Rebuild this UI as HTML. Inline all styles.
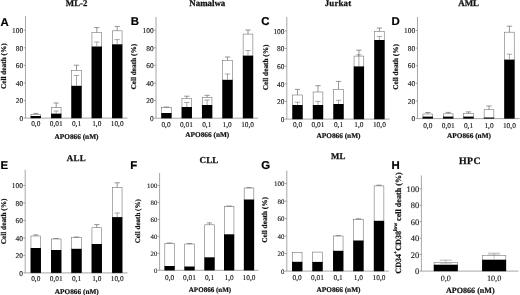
<!DOCTYPE html>
<html><head><meta charset="utf-8"><title>Figure</title>
<style>
html,body{margin:0;padding:0;background:#fff;}
body{width:520px;height:295px;overflow:hidden;}
svg{display:block;filter:blur(0.3px);}
text{text-rendering:geometricPrecision;font-family:"Liberation Serif","Times New Roman",serif;fill:#111;}
.t{stroke:#111;stroke-width:0.12px;}
.b{font-weight:bold;stroke:#111;stroke-width:0.2px;}
.ti{font-weight:bold;stroke:#111;stroke-width:0.25px;}
.L{font-family:"Liberation Sans",Arial,sans-serif;font-weight:bold;font-size:11.4px;fill:#000;stroke:#000;stroke-width:0.2px;}
</style></head><body>
<svg width="520" height="295" viewBox="0 0 520 295">
<rect width="520" height="295" fill="#fff"/>
<path d="M25.5 16V118.1H127.5" fill="none" stroke="#8a8a8a" stroke-width="0.75"/>
<path d="M23.70 118.10H25.5" stroke="#8a8a8a" stroke-width="0.8"/>
<text x="23.20" y="120.84" text-anchor="end" class="t" font-size="7.40">0</text>
<path d="M23.70 100.52H25.5" stroke="#8a8a8a" stroke-width="0.8"/>
<text x="23.20" y="103.26" text-anchor="end" class="t" font-size="7.40">20</text>
<path d="M23.70 82.94H25.5" stroke="#8a8a8a" stroke-width="0.8"/>
<text x="23.20" y="85.68" text-anchor="end" class="t" font-size="7.40">40</text>
<path d="M23.70 65.36H25.5" stroke="#8a8a8a" stroke-width="0.8"/>
<text x="23.20" y="68.10" text-anchor="end" class="t" font-size="7.40">60</text>
<path d="M23.70 47.78H25.5" stroke="#8a8a8a" stroke-width="0.8"/>
<text x="23.20" y="50.52" text-anchor="end" class="t" font-size="7.40">80</text>
<path d="M23.70 30.20H25.5" stroke="#8a8a8a" stroke-width="0.8"/>
<text x="23.20" y="32.94" text-anchor="end" class="t" font-size="7.40">100</text>
<rect x="30.95" y="114.40" width="9.70" height="3.70" fill="#fff" stroke="#767676" stroke-width="0.6"/>
<rect x="30.65" y="116.00" width="10.30" height="2.10" fill="#000"/>
<path d="M35.80 114.40V113.40M33.15 113.40H38.45" stroke="#6c6c6c" stroke-width="0.7" fill="none"/>
<rect x="51.35" y="107.60" width="9.70" height="10.50" fill="#fff" stroke="#767676" stroke-width="0.6"/>
<rect x="51.05" y="113.60" width="10.30" height="4.50" fill="#000"/>
<path d="M56.20 107.60V103.00M53.55 103.00H58.85" stroke="#6c6c6c" stroke-width="0.7" fill="none"/>
<path d="M56.20 113.60V111.00M53.55 111.00H58.85" stroke="#707070" stroke-width="0.6" fill="none"/>
<rect x="71.65" y="70.40" width="9.70" height="47.70" fill="#fff" stroke="#767676" stroke-width="0.6"/>
<rect x="71.35" y="85.80" width="10.30" height="32.30" fill="#000"/>
<path d="M76.50 70.40V65.20M73.85 65.20H79.15" stroke="#6c6c6c" stroke-width="0.7" fill="none"/>
<path d="M76.50 85.80V75.50M73.85 75.50H79.15" stroke="#707070" stroke-width="0.6" fill="none"/>
<rect x="91.95" y="32.40" width="9.70" height="85.70" fill="#fff" stroke="#767676" stroke-width="0.6"/>
<rect x="91.65" y="46.50" width="10.30" height="71.60" fill="#000"/>
<path d="M96.80 32.40V27.60M94.15 27.60H99.45" stroke="#6c6c6c" stroke-width="0.7" fill="none"/>
<path d="M96.80 46.50V42.00M94.15 42.00H99.45" stroke="#707070" stroke-width="0.6" fill="none"/>
<rect x="112.35" y="30.80" width="9.70" height="87.30" fill="#fff" stroke="#767676" stroke-width="0.6"/>
<rect x="112.05" y="44.30" width="10.30" height="73.80" fill="#000"/>
<path d="M117.20 30.80V26.40M114.55 26.40H119.85" stroke="#6c6c6c" stroke-width="0.7" fill="none"/>
<path d="M117.20 44.30V39.60M114.55 39.60H119.85" stroke="#707070" stroke-width="0.6" fill="none"/>
<text x="35.80" y="126.40" text-anchor="middle" class="t" font-size="7.40">0,0</text>
<text x="56.20" y="126.40" text-anchor="middle" class="t" font-size="7.40">0,01</text>
<text x="76.50" y="126.40" text-anchor="middle" class="t" font-size="7.40">0,1</text>
<text x="96.80" y="126.40" text-anchor="middle" class="t" font-size="7.40">1,0</text>
<text x="117.20" y="126.40" text-anchor="middle" class="t" font-size="7.40">10,0</text>
<text x="76.50" y="138.70" text-anchor="middle" class="b" font-size="7.30">APO866 (nM)</text>
<text x="76.60" y="6.20" text-anchor="middle" class="ti" font-size="8.8" letter-spacing="0">ML-2</text>
<text x="0.40" y="26.00" class="L">A</text>
<text transform="translate(5.50 66.20) rotate(-90)" text-anchor="middle" class="b" font-size="7.30">Cell death (%)</text>
<path d="M156.0 17V118.2H258" fill="none" stroke="#8a8a8a" stroke-width="0.75"/>
<path d="M154.20 118.20H156.0" stroke="#8a8a8a" stroke-width="0.8"/>
<text x="153.70" y="120.94" text-anchor="end" class="t" font-size="7.40">0</text>
<path d="M154.20 100.60H156.0" stroke="#8a8a8a" stroke-width="0.8"/>
<text x="153.70" y="103.34" text-anchor="end" class="t" font-size="7.40">20</text>
<path d="M154.20 83.00H156.0" stroke="#8a8a8a" stroke-width="0.8"/>
<text x="153.70" y="85.74" text-anchor="end" class="t" font-size="7.40">40</text>
<path d="M154.20 65.40H156.0" stroke="#8a8a8a" stroke-width="0.8"/>
<text x="153.70" y="68.14" text-anchor="end" class="t" font-size="7.40">60</text>
<path d="M154.20 47.80H156.0" stroke="#8a8a8a" stroke-width="0.8"/>
<text x="153.70" y="50.54" text-anchor="end" class="t" font-size="7.40">80</text>
<path d="M154.20 30.20H156.0" stroke="#8a8a8a" stroke-width="0.8"/>
<text x="153.70" y="32.94" text-anchor="end" class="t" font-size="7.40">100</text>
<rect x="161.55" y="107.60" width="9.70" height="10.60" fill="#fff" stroke="#767676" stroke-width="0.6"/>
<rect x="161.25" y="113.00" width="10.30" height="5.20" fill="#000"/>
<path d="M166.40 107.60V107.00M163.75 107.00H169.05" stroke="#6c6c6c" stroke-width="0.7" fill="none"/>
<rect x="181.95" y="98.40" width="9.70" height="19.80" fill="#fff" stroke="#767676" stroke-width="0.6"/>
<rect x="181.65" y="107.00" width="10.30" height="11.20" fill="#000"/>
<path d="M186.80 98.40V96.20M184.15 96.20H189.45" stroke="#6c6c6c" stroke-width="0.7" fill="none"/>
<path d="M186.80 107.00V102.50M184.15 102.50H189.45" stroke="#707070" stroke-width="0.6" fill="none"/>
<rect x="202.25" y="97.50" width="9.70" height="20.70" fill="#fff" stroke="#767676" stroke-width="0.6"/>
<rect x="201.95" y="105.00" width="10.30" height="13.20" fill="#000"/>
<path d="M207.10 97.50V95.30M204.45 95.30H209.75" stroke="#6c6c6c" stroke-width="0.7" fill="none"/>
<path d="M207.10 105.00V100.00M204.45 100.00H209.75" stroke="#707070" stroke-width="0.6" fill="none"/>
<rect x="222.65" y="60.30" width="9.70" height="57.90" fill="#fff" stroke="#767676" stroke-width="0.6"/>
<rect x="222.35" y="79.80" width="10.30" height="38.40" fill="#000"/>
<path d="M227.50 60.30V57.00M224.85 57.00H230.15" stroke="#6c6c6c" stroke-width="0.7" fill="none"/>
<path d="M227.50 79.80V74.00M224.85 74.00H230.15" stroke="#707070" stroke-width="0.6" fill="none"/>
<rect x="243.15" y="34.10" width="9.70" height="84.10" fill="#fff" stroke="#767676" stroke-width="0.6"/>
<rect x="242.85" y="55.60" width="10.30" height="62.60" fill="#000"/>
<path d="M248.00 34.10V30.00M245.35 30.00H250.65" stroke="#6c6c6c" stroke-width="0.7" fill="none"/>
<path d="M248.00 55.60V50.50M245.35 50.50H250.65" stroke="#707070" stroke-width="0.6" fill="none"/>
<text x="166.00" y="126.60" text-anchor="middle" class="t" font-size="7.40">0,0</text>
<text x="186.40" y="126.60" text-anchor="middle" class="t" font-size="7.40">0,01</text>
<text x="206.80" y="126.60" text-anchor="middle" class="t" font-size="7.40">0,1</text>
<text x="227.20" y="126.60" text-anchor="middle" class="t" font-size="7.40">1,0</text>
<text x="247.60" y="126.60" text-anchor="middle" class="t" font-size="7.40">10,0</text>
<text x="207.30" y="137.00" text-anchor="middle" class="b" font-size="7.30">APO866 (nM)</text>
<text x="207.30" y="6.20" text-anchor="middle" class="ti" font-size="8.9" letter-spacing="0">Namalwa</text>
<text x="130.80" y="24.90" class="L">B</text>
<text transform="translate(136.40 66.70) rotate(-90)" text-anchor="middle" class="b" font-size="7.30">Cell death (%)</text>
<path d="M286.8 17V119.1H389.5" fill="none" stroke="#8a8a8a" stroke-width="0.75"/>
<path d="M285.00 119.10H286.8" stroke="#8a8a8a" stroke-width="0.8"/>
<text x="284.50" y="121.84" text-anchor="end" class="t" font-size="7.40">0</text>
<path d="M285.00 101.44H286.8" stroke="#8a8a8a" stroke-width="0.8"/>
<text x="284.50" y="104.18" text-anchor="end" class="t" font-size="7.40">20</text>
<path d="M285.00 83.78H286.8" stroke="#8a8a8a" stroke-width="0.8"/>
<text x="284.50" y="86.52" text-anchor="end" class="t" font-size="7.40">40</text>
<path d="M285.00 66.12H286.8" stroke="#8a8a8a" stroke-width="0.8"/>
<text x="284.50" y="68.86" text-anchor="end" class="t" font-size="7.40">60</text>
<path d="M285.00 48.46H286.8" stroke="#8a8a8a" stroke-width="0.8"/>
<text x="284.50" y="51.20" text-anchor="end" class="t" font-size="7.40">80</text>
<path d="M285.00 30.80H286.8" stroke="#8a8a8a" stroke-width="0.8"/>
<text x="284.50" y="33.54" text-anchor="end" class="t" font-size="7.40">100</text>
<rect x="292.65" y="95.00" width="9.70" height="24.10" fill="#fff" stroke="#767676" stroke-width="0.6"/>
<rect x="292.35" y="105.00" width="10.30" height="14.10" fill="#000"/>
<path d="M297.50 95.00V89.40M294.85 89.40H300.15" stroke="#6c6c6c" stroke-width="0.7" fill="none"/>
<path d="M297.50 105.00V102.20M294.85 102.20H300.15" stroke="#707070" stroke-width="0.6" fill="none"/>
<rect x="313.15" y="92.00" width="9.70" height="27.10" fill="#fff" stroke="#767676" stroke-width="0.6"/>
<rect x="312.85" y="105.00" width="10.30" height="14.10" fill="#000"/>
<path d="M318.00 92.00V85.70M315.35 85.70H320.65" stroke="#6c6c6c" stroke-width="0.7" fill="none"/>
<path d="M318.00 105.00V101.40M315.35 101.40H320.65" stroke="#707070" stroke-width="0.6" fill="none"/>
<rect x="333.65" y="89.40" width="9.70" height="29.70" fill="#fff" stroke="#767676" stroke-width="0.6"/>
<rect x="333.35" y="104.00" width="10.30" height="15.10" fill="#000"/>
<path d="M338.50 89.40V81.40M335.85 81.40H341.15" stroke="#6c6c6c" stroke-width="0.7" fill="none"/>
<path d="M338.50 104.00V100.30M335.85 100.30H341.15" stroke="#707070" stroke-width="0.6" fill="none"/>
<rect x="354.05" y="56.10" width="9.70" height="63.00" fill="#fff" stroke="#767676" stroke-width="0.6"/>
<rect x="353.75" y="66.40" width="10.30" height="52.70" fill="#000"/>
<path d="M358.90 56.10V50.20M356.25 50.20H361.55" stroke="#6c6c6c" stroke-width="0.7" fill="none"/>
<path d="M358.90 66.40V54.80M356.25 54.80H361.55" stroke="#707070" stroke-width="0.6" fill="none"/>
<rect x="374.55" y="31.30" width="9.70" height="87.80" fill="#fff" stroke="#767676" stroke-width="0.6"/>
<rect x="374.25" y="40.00" width="10.30" height="79.10" fill="#000"/>
<path d="M379.40 31.30V28.00M376.75 28.00H382.05" stroke="#6c6c6c" stroke-width="0.7" fill="none"/>
<path d="M379.40 40.00V36.40M376.75 36.40H382.05" stroke="#707070" stroke-width="0.6" fill="none"/>
<text x="297.50" y="127.20" text-anchor="middle" class="t" font-size="7.40">0,0</text>
<text x="318.00" y="127.20" text-anchor="middle" class="t" font-size="7.40">0,01</text>
<text x="338.50" y="127.20" text-anchor="middle" class="t" font-size="7.40">0,1</text>
<text x="358.90" y="127.20" text-anchor="middle" class="t" font-size="7.40">1,0</text>
<text x="379.40" y="127.20" text-anchor="middle" class="t" font-size="7.40">10,0</text>
<text x="338.50" y="138.20" text-anchor="middle" class="b" font-size="7.30">APO866 (nM)</text>
<text x="338.00" y="6.40" text-anchor="middle" class="ti" font-size="8.9" letter-spacing="0.15">Jurkat</text>
<text x="261.30" y="24.90" class="L">C</text>
<text transform="translate(267.60 67.40) rotate(-90)" text-anchor="middle" class="b" font-size="7.30">Cell death (%)</text>
<path d="M417.5 17V118.6H519.5" fill="none" stroke="#8a8a8a" stroke-width="0.75"/>
<path d="M415.70 118.60H417.5" stroke="#8a8a8a" stroke-width="0.8"/>
<text x="415.20" y="121.34" text-anchor="end" class="t" font-size="7.40">0</text>
<path d="M415.70 100.98H417.5" stroke="#8a8a8a" stroke-width="0.8"/>
<text x="415.20" y="103.72" text-anchor="end" class="t" font-size="7.40">20</text>
<path d="M415.70 83.36H417.5" stroke="#8a8a8a" stroke-width="0.8"/>
<text x="415.20" y="86.10" text-anchor="end" class="t" font-size="7.40">40</text>
<path d="M415.70 65.74H417.5" stroke="#8a8a8a" stroke-width="0.8"/>
<text x="415.20" y="68.48" text-anchor="end" class="t" font-size="7.40">60</text>
<path d="M415.70 48.12H417.5" stroke="#8a8a8a" stroke-width="0.8"/>
<text x="415.20" y="50.86" text-anchor="end" class="t" font-size="7.40">80</text>
<path d="M415.70 30.50H417.5" stroke="#8a8a8a" stroke-width="0.8"/>
<text x="415.20" y="33.24" text-anchor="end" class="t" font-size="7.40">100</text>
<rect x="422.95" y="114.00" width="9.70" height="4.60" fill="#fff" stroke="#767676" stroke-width="0.6"/>
<rect x="422.65" y="116.60" width="10.30" height="2.00" fill="#000"/>
<path d="M427.80 114.00V112.50M425.15 112.50H430.45" stroke="#6c6c6c" stroke-width="0.7" fill="none"/>
<rect x="443.35" y="113.80" width="9.70" height="4.80" fill="#fff" stroke="#767676" stroke-width="0.6"/>
<rect x="443.05" y="116.60" width="10.30" height="2.00" fill="#000"/>
<path d="M448.20 113.80V112.40M445.55 112.40H450.85" stroke="#6c6c6c" stroke-width="0.7" fill="none"/>
<rect x="463.65" y="113.40" width="9.70" height="5.20" fill="#fff" stroke="#767676" stroke-width="0.6"/>
<rect x="463.35" y="116.60" width="10.30" height="2.00" fill="#000"/>
<path d="M468.50 113.40V111.90M465.85 111.90H471.15" stroke="#6c6c6c" stroke-width="0.7" fill="none"/>
<rect x="484.15" y="109.70" width="9.70" height="8.90" fill="#fff" stroke="#767676" stroke-width="0.6"/>
<rect x="483.85" y="117.50" width="10.30" height="1.10" fill="#000"/>
<path d="M489.00 109.70V106.00M486.35 106.00H491.65" stroke="#6c6c6c" stroke-width="0.7" fill="none"/>
<rect x="504.55" y="32.20" width="9.70" height="86.40" fill="#fff" stroke="#767676" stroke-width="0.6"/>
<rect x="504.25" y="59.60" width="10.30" height="59.00" fill="#000"/>
<path d="M509.40 32.20V26.20M506.75 26.20H512.05" stroke="#6c6c6c" stroke-width="0.7" fill="none"/>
<path d="M509.40 59.60V54.20M506.75 54.20H512.05" stroke="#707070" stroke-width="0.6" fill="none"/>
<text x="427.80" y="127.50" text-anchor="middle" class="t" font-size="7.40">0,0</text>
<text x="448.20" y="127.50" text-anchor="middle" class="t" font-size="7.40">0,01</text>
<text x="468.50" y="127.50" text-anchor="middle" class="t" font-size="7.40">0,1</text>
<text x="489.00" y="127.50" text-anchor="middle" class="t" font-size="7.40">1,0</text>
<text x="509.40" y="127.50" text-anchor="middle" class="t" font-size="7.40">10,0</text>
<text x="469.00" y="137.90" text-anchor="middle" class="b" font-size="7.30">APO866 (nM)</text>
<text x="468.60" y="6.20" text-anchor="middle" class="ti" font-size="8.9" letter-spacing="0">AML</text>
<text x="391.60" y="25.30" class="L">D</text>
<text transform="translate(397.70 66.90) rotate(-90)" text-anchor="middle" class="b" font-size="7.30">Cell death (%)</text>
<path d="M25.2 169.8V272.9H127.5" fill="none" stroke="#8a8a8a" stroke-width="0.75"/>
<path d="M23.40 272.90H25.2" stroke="#8a8a8a" stroke-width="0.8"/>
<text x="22.90" y="275.64" text-anchor="end" class="t" font-size="7.40">0</text>
<path d="M23.40 255.42H25.2" stroke="#8a8a8a" stroke-width="0.8"/>
<text x="22.90" y="258.16" text-anchor="end" class="t" font-size="7.40">20</text>
<path d="M23.40 237.94H25.2" stroke="#8a8a8a" stroke-width="0.8"/>
<text x="22.90" y="240.68" text-anchor="end" class="t" font-size="7.40">40</text>
<path d="M23.40 220.46H25.2" stroke="#8a8a8a" stroke-width="0.8"/>
<text x="22.90" y="223.20" text-anchor="end" class="t" font-size="7.40">60</text>
<path d="M23.40 202.98H25.2" stroke="#8a8a8a" stroke-width="0.8"/>
<text x="22.90" y="205.72" text-anchor="end" class="t" font-size="7.40">80</text>
<path d="M23.40 185.50H25.2" stroke="#8a8a8a" stroke-width="0.8"/>
<text x="22.90" y="188.24" text-anchor="end" class="t" font-size="7.40">100</text>
<rect x="30.95" y="236.00" width="9.70" height="36.90" fill="#fff" stroke="#767676" stroke-width="0.6"/>
<rect x="30.65" y="248.00" width="10.30" height="24.90" fill="#000"/>
<path d="M35.80 236.00V234.90M33.15 234.90H38.45" stroke="#6c6c6c" stroke-width="0.7" fill="none"/>
<rect x="51.35" y="239.00" width="9.70" height="33.90" fill="#fff" stroke="#767676" stroke-width="0.6"/>
<rect x="51.05" y="250.00" width="10.30" height="22.90" fill="#000"/>
<path d="M56.20 239.00V238.50M53.55 238.50H58.85" stroke="#6c6c6c" stroke-width="0.7" fill="none"/>
<rect x="71.65" y="237.30" width="9.70" height="35.60" fill="#fff" stroke="#767676" stroke-width="0.6"/>
<rect x="71.35" y="248.80" width="10.30" height="24.10" fill="#000"/>
<path d="M76.50 237.30V237.00M73.85 237.00H79.15" stroke="#6c6c6c" stroke-width="0.7" fill="none"/>
<rect x="91.95" y="227.70" width="9.70" height="45.20" fill="#fff" stroke="#767676" stroke-width="0.6"/>
<rect x="91.65" y="244.00" width="10.30" height="28.90" fill="#000"/>
<path d="M96.80 227.70V224.60M94.15 224.60H99.45" stroke="#6c6c6c" stroke-width="0.7" fill="none"/>
<rect x="112.35" y="187.50" width="9.70" height="85.40" fill="#fff" stroke="#767676" stroke-width="0.6"/>
<rect x="112.05" y="217.10" width="10.30" height="55.80" fill="#000"/>
<path d="M117.20 187.50V182.80M114.55 182.80H119.85" stroke="#6c6c6c" stroke-width="0.7" fill="none"/>
<path d="M117.20 217.10V213.00M114.55 213.00H119.85" stroke="#707070" stroke-width="0.6" fill="none"/>
<text x="35.80" y="281.20" text-anchor="middle" class="t" font-size="7.40">0,0</text>
<text x="56.20" y="281.20" text-anchor="middle" class="t" font-size="7.40">0,01</text>
<text x="76.50" y="281.20" text-anchor="middle" class="t" font-size="7.40">0,1</text>
<text x="96.80" y="281.20" text-anchor="middle" class="t" font-size="7.40">1,0</text>
<text x="117.20" y="281.20" text-anchor="middle" class="t" font-size="7.40">10,0</text>
<text x="76.80" y="293.90" text-anchor="middle" class="b" font-size="7.30">APO866 (nM)</text>
<text x="76.40" y="160.60" text-anchor="middle" class="ti" font-size="8.9" letter-spacing="0.3">ALL</text>
<text x="0.60" y="169.40" class="L">E</text>
<text transform="translate(6.00 221.40) rotate(-90)" text-anchor="middle" class="b" font-size="7.30">Cell death (%)</text>
<path d="M159.6 173V270.3H258.5" fill="none" stroke="#8a8a8a" stroke-width="0.75"/>
<path d="M157.80 270.30H159.6" stroke="#8a8a8a" stroke-width="0.8"/>
<text x="157.30" y="272.85" text-anchor="end" class="t" font-size="6.81">0</text>
<path d="M157.80 253.36H159.6" stroke="#8a8a8a" stroke-width="0.8"/>
<text x="157.30" y="255.91" text-anchor="end" class="t" font-size="6.81">20</text>
<path d="M157.80 236.42H159.6" stroke="#8a8a8a" stroke-width="0.8"/>
<text x="157.30" y="238.97" text-anchor="end" class="t" font-size="6.81">40</text>
<path d="M157.80 219.48H159.6" stroke="#8a8a8a" stroke-width="0.8"/>
<text x="157.30" y="222.03" text-anchor="end" class="t" font-size="6.81">60</text>
<path d="M157.80 202.54H159.6" stroke="#8a8a8a" stroke-width="0.8"/>
<text x="157.30" y="205.09" text-anchor="end" class="t" font-size="6.81">80</text>
<path d="M157.80 185.60H159.6" stroke="#8a8a8a" stroke-width="0.8"/>
<text x="157.30" y="188.15" text-anchor="end" class="t" font-size="6.81">100</text>
<rect x="164.80" y="243.40" width="9.60" height="26.90" fill="#fff" stroke="#767676" stroke-width="0.6"/>
<rect x="164.50" y="266.00" width="10.20" height="4.30" fill="#000"/>
<path d="M169.60 243.40V243.00M166.95 243.00H172.25" stroke="#6c6c6c" stroke-width="0.7" fill="none"/>
<rect x="184.70" y="244.00" width="9.60" height="26.30" fill="#fff" stroke="#767676" stroke-width="0.6"/>
<rect x="184.40" y="266.50" width="10.20" height="3.80" fill="#000"/>
<path d="M189.50 244.00V243.60M186.85 243.60H192.15" stroke="#6c6c6c" stroke-width="0.7" fill="none"/>
<rect x="204.70" y="224.80" width="9.60" height="45.50" fill="#fff" stroke="#767676" stroke-width="0.6"/>
<rect x="204.40" y="257.30" width="10.20" height="13.00" fill="#000"/>
<path d="M209.50 224.80V222.90M206.85 222.90H212.15" stroke="#6c6c6c" stroke-width="0.7" fill="none"/>
<rect x="224.30" y="206.40" width="9.60" height="63.90" fill="#fff" stroke="#767676" stroke-width="0.6"/>
<rect x="224.00" y="234.30" width="10.20" height="36.00" fill="#000"/>
<path d="M229.10 206.40V206.00M226.45 206.00H231.75" stroke="#6c6c6c" stroke-width="0.7" fill="none"/>
<rect x="244.20" y="188.00" width="9.60" height="82.30" fill="#fff" stroke="#767676" stroke-width="0.6"/>
<rect x="243.90" y="199.50" width="10.20" height="70.80" fill="#000"/>
<path d="M249.00 188.00V187.60M246.35 187.60H251.65" stroke="#6c6c6c" stroke-width="0.7" fill="none"/>
<text x="169.60" y="279.60" text-anchor="middle" class="t" font-size="7.40">0,0</text>
<text x="189.50" y="279.60" text-anchor="middle" class="t" font-size="7.40">0,01</text>
<text x="209.50" y="279.60" text-anchor="middle" class="t" font-size="7.40">0,1</text>
<text x="229.10" y="279.60" text-anchor="middle" class="t" font-size="7.40">1,0</text>
<text x="249.00" y="279.60" text-anchor="middle" class="t" font-size="7.40">10,0</text>
<text x="210.00" y="291.50" text-anchor="middle" class="b" font-size="7.04">APO866 (nM)</text>
<text x="209.00" y="162.50" text-anchor="middle" class="ti" font-size="9.1" letter-spacing="0.15">CLL</text>
<text x="130.20" y="168.90" class="L">F</text>
<text transform="translate(139.90 221.30) rotate(-90)" text-anchor="middle" class="b" font-size="7.04">Cell death (%)</text>
<path d="M286.8 170.5V271.1H389" fill="none" stroke="#8a8a8a" stroke-width="0.75"/>
<path d="M285.00 271.10H286.8" stroke="#8a8a8a" stroke-width="0.8"/>
<text x="284.50" y="273.70" text-anchor="end" class="t" font-size="6.96">0</text>
<path d="M285.00 253.60H286.8" stroke="#8a8a8a" stroke-width="0.8"/>
<text x="284.50" y="256.20" text-anchor="end" class="t" font-size="6.96">20</text>
<path d="M285.00 236.10H286.8" stroke="#8a8a8a" stroke-width="0.8"/>
<text x="284.50" y="238.70" text-anchor="end" class="t" font-size="6.96">40</text>
<path d="M285.00 218.60H286.8" stroke="#8a8a8a" stroke-width="0.8"/>
<text x="284.50" y="221.20" text-anchor="end" class="t" font-size="6.96">60</text>
<path d="M285.00 201.10H286.8" stroke="#8a8a8a" stroke-width="0.8"/>
<text x="284.50" y="203.70" text-anchor="end" class="t" font-size="6.96">80</text>
<path d="M285.00 183.60H286.8" stroke="#8a8a8a" stroke-width="0.8"/>
<text x="284.50" y="186.20" text-anchor="end" class="t" font-size="6.96">100</text>
<rect x="292.35" y="252.40" width="9.70" height="18.70" fill="#fff" stroke="#767676" stroke-width="0.6"/>
<rect x="292.05" y="261.80" width="10.30" height="9.30" fill="#000"/>
<rect x="312.65" y="252.10" width="9.70" height="19.00" fill="#fff" stroke="#767676" stroke-width="0.6"/>
<rect x="312.35" y="261.90" width="10.30" height="9.20" fill="#000"/>
<rect x="333.35" y="236.00" width="9.70" height="35.10" fill="#fff" stroke="#767676" stroke-width="0.6"/>
<rect x="333.05" y="250.80" width="10.30" height="20.30" fill="#000"/>
<path d="M338.20 236.00V235.60M335.55 235.60H340.85" stroke="#6c6c6c" stroke-width="0.7" fill="none"/>
<rect x="353.55" y="219.30" width="9.70" height="51.80" fill="#fff" stroke="#767676" stroke-width="0.6"/>
<rect x="353.25" y="240.50" width="10.30" height="30.60" fill="#000"/>
<path d="M358.40 219.30V218.80M355.75 218.80H361.05" stroke="#6c6c6c" stroke-width="0.7" fill="none"/>
<rect x="374.15" y="185.90" width="9.70" height="85.20" fill="#fff" stroke="#767676" stroke-width="0.6"/>
<rect x="373.85" y="220.80" width="10.30" height="50.30" fill="#000"/>
<path d="M379.00 185.90V185.20M376.35 185.20H381.65" stroke="#6c6c6c" stroke-width="0.7" fill="none"/>
<text x="297.20" y="280.00" text-anchor="middle" class="t" font-size="7.40">0,0</text>
<text x="317.50" y="280.00" text-anchor="middle" class="t" font-size="7.40">0,01</text>
<text x="338.20" y="280.00" text-anchor="middle" class="t" font-size="7.40">0,1</text>
<text x="358.40" y="280.00" text-anchor="middle" class="t" font-size="7.40">1,0</text>
<text x="379.00" y="280.00" text-anchor="middle" class="t" font-size="7.40">10,0</text>
<text x="338.50" y="291.60" text-anchor="middle" class="b" font-size="7.30">APO866 (nM)</text>
<text x="338.20" y="158.80" text-anchor="middle" class="ti" font-size="8.9" letter-spacing="0">ML</text>
<text x="261.30" y="169.10" class="L">G</text>
<text transform="translate(267.20 219.90) rotate(-90)" text-anchor="middle" class="b" font-size="7.30">Cell death (%)</text>
<path d="M421.4 175.5V271.1H518.5" fill="none" stroke="#8a8a8a" stroke-width="0.75"/>
<path d="M419.60 271.10H421.4" stroke="#8a8a8a" stroke-width="0.8"/>
<text x="419.10" y="274.18" text-anchor="end" class="t" font-size="8.44">0</text>
<path d="M419.60 254.64H421.4" stroke="#8a8a8a" stroke-width="0.8"/>
<text x="419.10" y="257.72" text-anchor="end" class="t" font-size="8.44">20</text>
<path d="M419.60 238.18H421.4" stroke="#8a8a8a" stroke-width="0.8"/>
<text x="419.10" y="241.26" text-anchor="end" class="t" font-size="8.44">40</text>
<path d="M419.60 221.72H421.4" stroke="#8a8a8a" stroke-width="0.8"/>
<text x="419.10" y="224.80" text-anchor="end" class="t" font-size="8.44">60</text>
<path d="M419.60 205.26H421.4" stroke="#8a8a8a" stroke-width="0.8"/>
<text x="419.10" y="208.34" text-anchor="end" class="t" font-size="8.44">80</text>
<path d="M419.60 188.80H421.4" stroke="#8a8a8a" stroke-width="0.8"/>
<text x="419.10" y="191.88" text-anchor="end" class="t" font-size="8.44">100</text>
<rect x="434.10" y="262.40" width="23.40" height="8.70" fill="#fff" stroke="#777" stroke-width="0.6"/>
<rect x="433.80" y="264.70" width="24.00" height="6.40" fill="#000"/>
<path d="M445.80 262.40V260.20M439.80 260.20H451.80" stroke="#888" stroke-width="0.6" fill="none"/>
<path d="M445.80 264.70V263.30M439.80 263.30H451.80" stroke="#999" stroke-width="0.5" fill="none"/>
<rect x="482.40" y="255.60" width="23.40" height="15.50" fill="#fff" stroke="#777" stroke-width="0.6"/>
<rect x="482.10" y="259.70" width="24.00" height="11.40" fill="#000"/>
<path d="M494.10 255.60V253.20M488.10 253.20H500.10" stroke="#888" stroke-width="0.6" fill="none"/>
<path d="M494.10 259.70V254.80M488.10 254.80H500.10" stroke="#999" stroke-width="0.5" fill="none"/>
<text x="445.80" y="281.10" text-anchor="middle" class="t" font-size="8.21">0,0</text>
<text x="494.10" y="281.10" text-anchor="middle" class="t" font-size="8.21">10,0</text>
<text x="470.30" y="293.10" text-anchor="middle" class="b" font-size="8.10">APO866 (nM)</text>
<text x="470.00" y="164.30" text-anchor="middle" class="ti" font-size="9.8" letter-spacing="0.45">HPC</text>
<text x="391.50" y="169.00" class="L">H</text>
<text transform="translate(400.60 223.00) rotate(-90)" text-anchor="middle" class="b" font-size="8.10">CD34<tspan dy="-3.8" font-size="5.4">+</tspan><tspan dy="3.8">CD38</tspan><tspan dy="-4.1" font-size="5.4">low</tspan><tspan dy="4.1"> cell death (%)</tspan></text>
</svg>
</body></html>
